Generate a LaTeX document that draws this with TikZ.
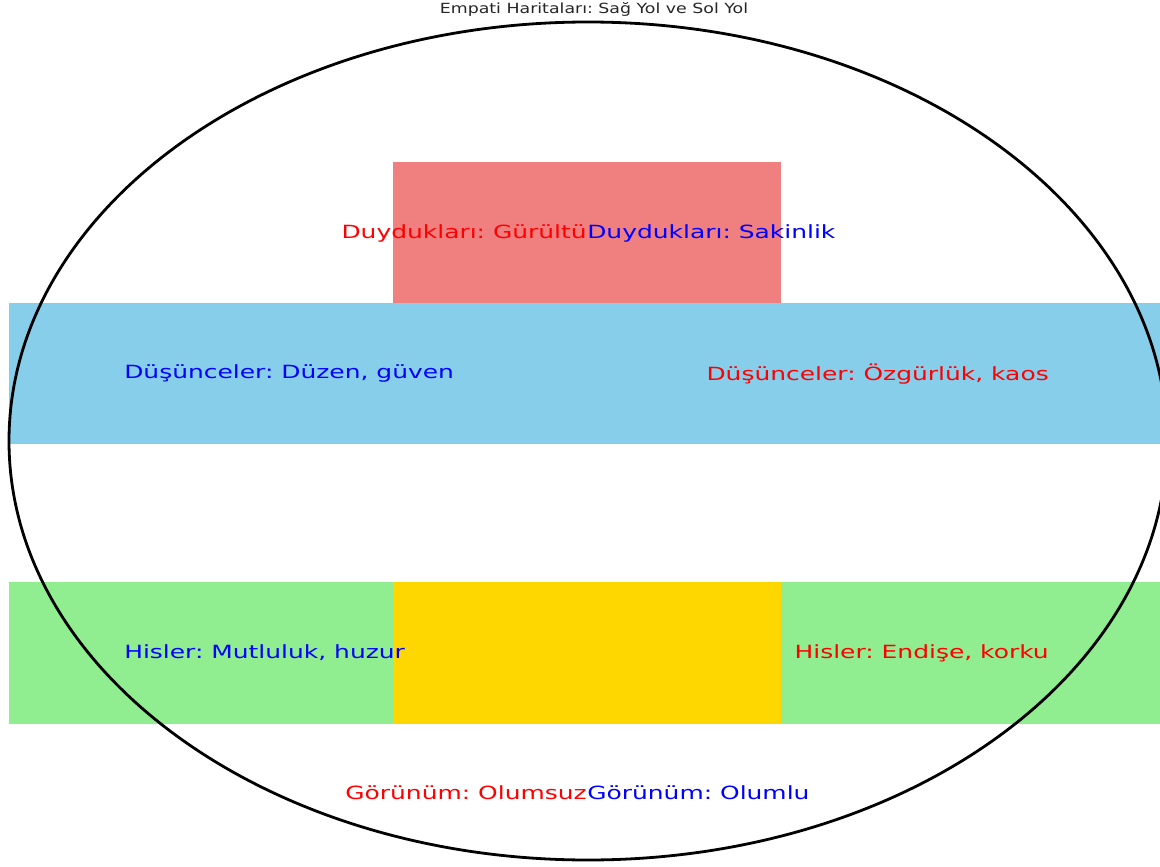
\documentclass[tikz,border=0pt]{standalone}
\usepackage{fontspec}
\setmainfont{DejaVu Sans}
\frenchspacing
\definecolor{lcoral}{HTML}{F08080}
\definecolor{skyb}{HTML}{87CEEB}
\definecolor{lgreen}{HTML}{90EE90}
\definecolor{goldc}{HTML}{FFD700}
\definecolor{titlec}{HTML}{262626}
\tikzset{
  lbl/.style={inner sep=0pt, font=\fontsize{18.2}{18}\selectfont\frenchspacing, xscale=1.37},
  redlbl/.style={lbl, text=red},
  bluelbl/.style={lbl, text=blue},
  band/.style={draw=none}
}
\begin{document}
\begin{tikzpicture}[x=1pt,y=-1pt]
\useasboundingbox (0,0) rectangle (1160,867);
\fill[white] (0,0) rectangle (1160,867);
% bands
\fill[lcoral] (393,162) rectangle (781,303);
\fill[skyb] (9,303) rectangle (1160,444);
\fill[lgreen] (9,582) rectangle (1160,724);
\fill[goldc] (393,582) rectangle (781,724);
% ellipse
\begin{scope}
\clip (0,0) rectangle (1160,867);
\draw[line width=2.8pt] (588,441) ellipse [x radius=579, y radius=419];
\end{scope}
% title
\node[inner sep=0pt, anchor=base, font=\fontsize{14}{14}\selectfont\frenchspacing, xscale=1.24, text=titlec] (title) at (594,14) {Empati Haritaları: Sağ Yol ve Sol Yol};
% labels
\node[redlbl, anchor=base east] (duyR) at (587,238) {Duydukları: Gürültü};
\node[bluelbl, anchor=base west] (duyB) at (587,238) {Duydukları: Sakinlik};
\node[bluelbl, anchor=base west] (dusB) at (124,378) {Düşünceler: Düzen, güven};
\node[redlbl, anchor=base east] (dusR) at (1049,380) {Düşünceler: Özgürlük, kaos};
\node[bluelbl, anchor=base west] (hisB) at (124,658) {Hisler: Mutluluk, huzur};
\node[redlbl, anchor=base east] (hisR) at (1049,658) {Hisler: Endişe, korku};
\node[redlbl, anchor=base east] (gorR) at (587,799) {Görünüm: Olumsuz};
\node[bluelbl, anchor=base west] (gorB) at (587,799) {Görünüm: Olumlu};
\end{tikzpicture}
\end{document}
